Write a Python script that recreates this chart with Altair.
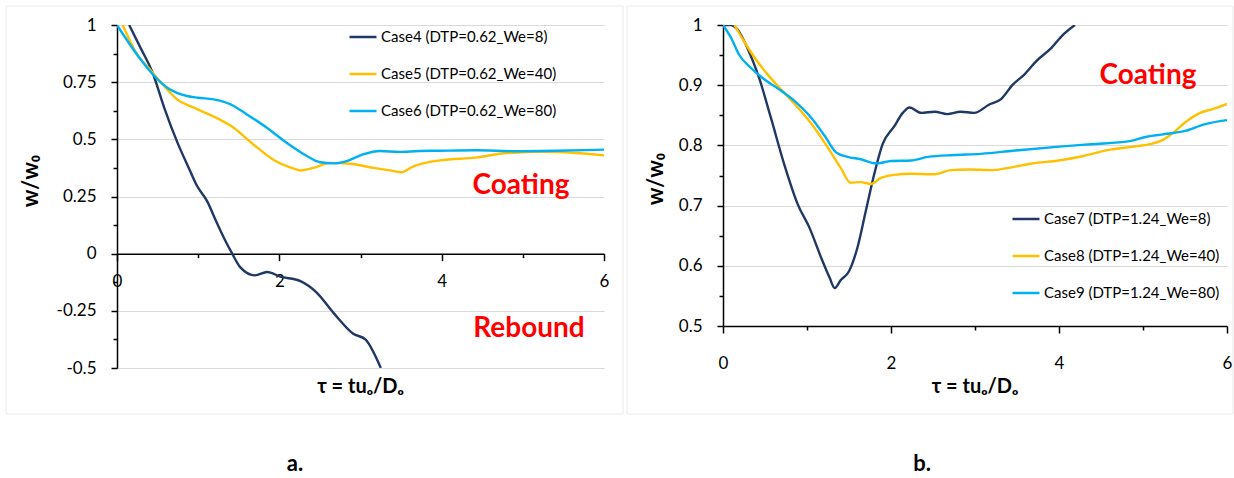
import altair as alt
import pandas as pd

# ---------------- data ----------------
# Panel a
c4_t = [0.15, 0.29, 0.44, 0.58, 0.74, 0.89, 0.98, 1.11, 1.23, 1.33, 1.42, 1.52, 1.70, 1.85, 2.01, 2.26, 2.46, 2.67, 2.91, 3.06, 3.25]
c4_v = [1.0, 0.90, 0.79, 0.64, 0.49, 0.37, 0.30, 0.23, 0.135, 0.06, 0.0, -0.06, -0.095, -0.08, -0.10, -0.12, -0.17, -0.26, -0.35, -0.375, -0.50]

c5_t = [0.07, 0.25, 0.42, 0.58, 0.74, 0.95, 1.19, 1.44, 1.68, 1.93, 2.15, 2.26, 2.42, 2.63, 2.87, 3.16, 3.36, 3.50, 3.64, 3.98, 4.42, 4.81, 5.30, 5.64, 6.0]
c5_v = [1.0, 0.87, 0.80, 0.733, 0.675, 0.638, 0.60, 0.55, 0.478, 0.41, 0.375, 0.364, 0.375, 0.397, 0.393, 0.375, 0.364, 0.356, 0.38, 0.408, 0.42, 0.44, 0.445, 0.44, 0.43]

c6_t = [0.0, 0.13, 0.29, 0.46, 0.62, 0.79, 0.99, 1.19, 1.40, 1.60, 1.85, 2.09, 2.34, 2.50, 2.67, 2.83, 3.03, 3.24, 3.48, 3.72, 3.94, 4.42, 4.90, 5.40, 6.0]
c6_v = [1.0, 0.93, 0.85, 0.777, 0.726, 0.697, 0.682, 0.675, 0.653, 0.609, 0.55, 0.485, 0.427, 0.40, 0.395, 0.405, 0.434, 0.449, 0.445, 0.449, 0.45, 0.452, 0.448, 0.45, 0.455]

# Panel b
c7_t = [0.0, 0.09, 0.17, 0.29, 0.43, 0.57, 0.73, 0.89, 1.03, 1.17, 1.27, 1.33, 1.40, 1.50, 1.60, 1.70, 1.80, 1.90, 2.04, 2.14, 2.22, 2.36, 2.52, 2.67, 2.83, 2.99, 3.17, 3.31, 3.45, 3.59, 3.73, 3.91, 4.05, 4.19]
c7_v = [1.0, 1.0, 0.993, 0.962, 0.912, 0.846, 0.768, 0.702, 0.663, 0.613, 0.580, 0.563, 0.576, 0.591, 0.63, 0.691, 0.752, 0.802, 0.832, 0.854, 0.863, 0.854, 0.856, 0.852, 0.856, 0.854, 0.868, 0.877, 0.901, 0.918, 0.94, 0.962, 0.984, 1.0]

c8_t = [0.135, 0.25, 0.39, 0.53, 0.69, 0.89, 1.09, 1.25, 1.40, 1.52, 1.64, 1.76, 1.88, 2.04, 2.24, 2.52, 2.71, 2.93, 3.21, 3.45, 3.68, 4.0, 4.28, 4.61, 4.89, 5.08, 5.22, 5.36, 5.50, 5.68, 5.82, 6.0]
c8_v = [1.0, 0.973, 0.943, 0.918, 0.893, 0.863, 0.829, 0.796, 0.763, 0.738, 0.739, 0.736, 0.746, 0.751, 0.753, 0.752, 0.759, 0.760, 0.759, 0.764, 0.770, 0.775, 0.782, 0.793, 0.798, 0.802, 0.808, 0.821, 0.838, 0.854, 0.86, 0.869]

c9_t = [0.0, 0.095, 0.19, 0.33, 0.49, 0.65, 0.85, 1.05, 1.21, 1.35, 1.48, 1.64, 1.82, 2.0, 2.24, 2.44, 2.75, 3.07, 3.45, 4.0, 4.38, 4.84, 5.03, 5.22, 5.5, 5.73, 6.0]
c9_v = [1.0, 0.979, 0.951, 0.929, 0.910, 0.895, 0.874, 0.846, 0.816, 0.788, 0.781, 0.777, 0.770, 0.774, 0.775, 0.781, 0.784, 0.786, 0.791, 0.798, 0.802, 0.807, 0.814, 0.818, 0.824, 0.835, 0.842]

names_a = ["Case4 (DTP=0.62_We=8)", "Case5 (DTP=0.62_We=40)", "Case6 (DTP=0.62_We=80)"]
names_b = ["Case7 (DTP=1.24_We=8)", "Case8 (DTP=1.24_We=40)", "Case9 (DTP=1.24_We=80)"]
colors = ["#1F3864", "#FFC000", "#00B0F0"]

x_ticks = [0, 1, 2, 3, 4, 5, 6]
ya_ticks = [-0.5, -0.375, -0.25, -0.125, 0, 0.125, 0.25, 0.375, 0.5, 0.625, 0.75, 0.875, 1]
yb_ticks = [0.5, 0.55, 0.6, 0.65, 0.7, 0.75, 0.8, 0.85, 0.9, 0.95, 1]


def frame(ts, vs, name):
    return pd.DataFrame({"t": ts, "v": vs, "series": name})


dfa = pd.concat([frame(c4_t, c4_v, names_a[0]), frame(c5_t, c5_v, names_a[1]), frame(c6_t, c6_v, names_a[2])])
dfb = pd.concat([frame(c7_t, c7_v, names_b[0]), frame(c8_t, c8_v, names_b[1]), frame(c9_t, c9_v, names_b[2])])
one = pd.DataFrame({"k": [0]})

FONT = "Lato"
WA, HA = 487, 343
WB, HB = 504, 301


def cond(test, a, b):
    return {"condition": {"test": test, "value": a}, "value": b}


def y_axis(values, test):
    return alt.Axis(
        values=values,
        labelExpr=f"({test}) ? datum.value + '' : ''",
        tickSize=cond(test, 6, 4),
        tickWidth=1.5, tickColor="#000000",
        domainColor="#000000", domainWidth=1.5,
        grid=True, gridColor="#D9D9D9", gridWidth=1,
        gridOpacity=cond(test, 1, 0),
        labelFont=FONT, labelFontSize=17, labelColor="#000000", labelPadding=15,
        title=None,
    )


def x_axis(offset, pad):
    test = "datum.value % 2 == 0"
    return alt.Axis(
        values=x_ticks,
        labelExpr=f"({test}) ? datum.value + '' : ''",
        tickSize=cond(test, 7, 4),
        tickWidth=1.5, tickColor="#000000",
        domainColor="#000000", domainWidth=1.5,
        grid=False, offset=offset,
        labelFont=FONT, labelFontSize=17, labelColor="#000000", labelPadding=pad,
        labelFlush=False, labelOverlap=False,
        title=None,
    )


def legend(lx, ly):
    return alt.Legend(
        title=None, orient="none", legendX=lx, legendY=ly, direction="vertical",
        symbolType="stroke", symbolSize=729, symbolStrokeWidth=2.5,
        labelFont=FONT, labelFontSize=15, labelColor="#000000", labelLimit=400,
        rowPadding=14, labelOffset=3, padding=0,
    )


def txt(text, x, y, size, color="#000000", angle=0):
    return alt.Chart(one).mark_text(
        text=text, font=FONT, fontSize=size, fontWeight="bold", color=color,
        align="center", baseline="middle", angle=angle,
    ).encode(x=alt.value(x), y=alt.value(y))


def border(x1, x2, y1, y2):
    return alt.Chart(one).mark_rect(fillOpacity=0, stroke="#EAEAEA", strokeWidth=1).encode(
        x=alt.value(x1), x2=alt.value(x2), y=alt.value(y1), y2=alt.value(y2)
    )


# ---------------- panel a ----------------
lines_a = alt.Chart(dfa).mark_line(strokeWidth=2.4, interpolate="monotone", clip=True).encode(
    x=alt.X("t:Q", scale=alt.Scale(domain=[0, 6], nice=False), axis=x_axis(-HA / 3, 13)),
    y=alt.Y("v:Q", scale=alt.Scale(domain=[-0.5, 1], nice=False, zero=False),
            axis=y_axis(ya_ticks, "abs(datum.value*4 - round(datum.value*4)) < 0.001")),
    color=alt.Color("series:N", scale=alt.Scale(domain=names_a, range=colors), legend=legend(231, -3)),
)

left = alt.layer(
    border(-111, 506, -19, 389),
    lines_a,
    txt("w/w\u2080", -86, 156, 22, angle=270),
    txt("Coating", 404, 161, 28, "#FF0000"),
    txt("Rebound", 412, 304, 28, "#FF0000"),
    txt("\u03c4 = tu\u2092/D\u2092", WA / 2, HA + 19, 20),
    txt("a.", 178, 439, 22),
).properties(width=WA, height=HA)

# ---------------- panel b ----------------
lines_b = alt.Chart(dfb).mark_line(strokeWidth=2.4, interpolate="monotone", clip=True).encode(
    x=alt.X("t:Q", scale=alt.Scale(domain=[0, 6], nice=False), axis=x_axis(0, 22)),
    y=alt.Y("v:Q", scale=alt.Scale(domain=[0.5, 1], nice=False, zero=False),
            axis=y_axis(yb_ticks, "abs(datum.value*10 - round(datum.value*10)) < 0.001")),
    color=alt.Color("series:N", scale=alt.Scale(domain=names_b, range=colors), legend=legend(288, 179)),
)

right = alt.layer(
    border(-96, 510, -19, 389),
    lines_b,
    txt("w/w\u2080", -67, 154, 22, angle=270),
    txt("Coating", 425, 51, 28, "#FF0000"),
    txt("\u03c4 = tu\u2092/D\u2092", WB / 2, HB + 61, 20),
    txt("b.", 199, 439, 22),
).properties(width=WB, height=HB)

chart = alt.HConcatChart(
    hconcat=[left, right], spacing=119, bounds="flush",
    padding={"left": 5, "top": 5, "right": 0, "bottom": 0},
).resolve_scale(color="independent", x="independent", y="independent").configure_view(strokeWidth=0)

chart.save("out.html", embed_options={"renderer": "svg", "actions": False})
